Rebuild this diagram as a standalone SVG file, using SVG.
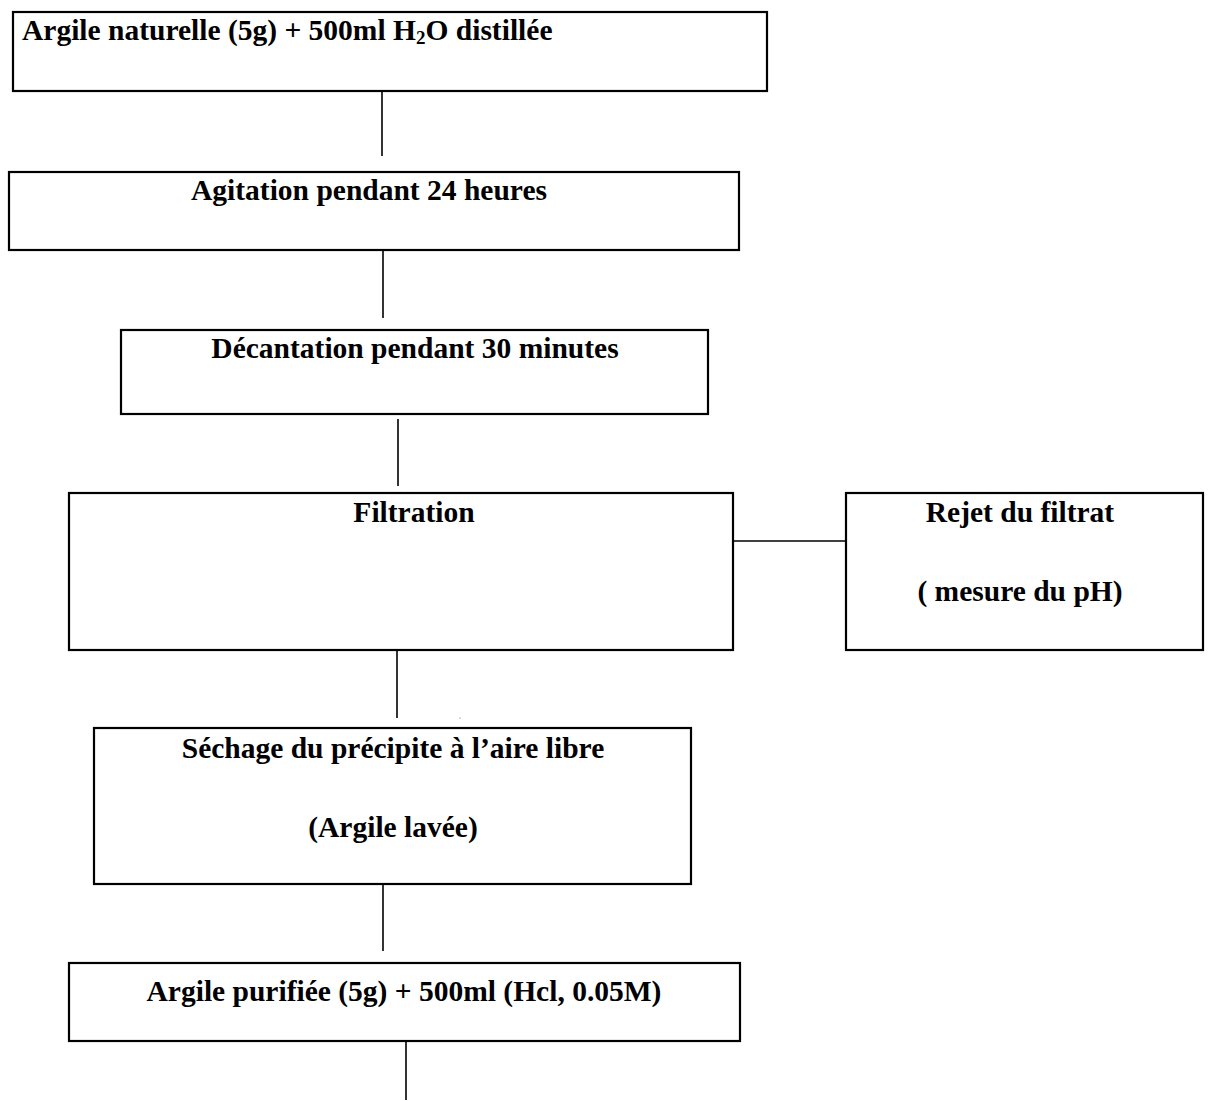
<svg xmlns="http://www.w3.org/2000/svg" width="1208" height="1101" viewBox="0 0 1208 1101">
  <style>
    .box { fill: #ffffff; stroke: #000000; stroke-width: 2.2; }
    .link { stroke: #000000; stroke-width: 1.6; fill: none; }
    .lbl { font-family: "Liberation Serif", "Times New Roman", serif; font-weight: bold; font-size: 29.5px; fill: #000000; }
    .mid { text-anchor: middle; }
  </style>
  <rect width="1208" height="1101" fill="#ffffff"/>

  <!-- connectors between the steps -->
  <g id="connectors">
    <line class="link" x1="382" y1="92" x2="382" y2="156"/>
    <line class="link" x1="383" y1="248" x2="383" y2="318"/>
    <line class="link" x1="398" y1="419" x2="398" y2="486"/>
    <line class="link" x1="734" y1="541" x2="848" y2="541" stroke-width="2"/>
    <line class="link" x1="397" y1="650" x2="397" y2="718"/>
    <line class="link" x1="383" y1="880" x2="383" y2="951"/>
    <line class="link" x1="406" y1="1040" x2="406" y2="1100"/>
    <circle cx="460" cy="718" r="0.6" fill="#555555"/>
  </g>

  <g id="step-argile-naturelle">
    <rect class="box" x="13" y="12" width="754" height="79"/>
    <text class="lbl" x="22" y="40">Argile naturelle (5g) + 500ml H<tspan font-size="19" dy="4">2</tspan><tspan dy="-4">O distillée</tspan></text>
  </g>

  <g id="step-agitation">
    <rect class="box" x="9" y="172" width="730" height="78"/>
    <text class="lbl mid" x="369" y="200">Agitation pendant 24 heures</text>
  </g>

  <g id="step-decantation">
    <rect class="box" x="121" y="330" width="587" height="84"/>
    <text class="lbl mid" x="415" y="358">Décantation pendant 30 minutes</text>
  </g>

  <g id="step-filtration">
    <rect class="box" x="69" y="493" width="664" height="157"/>
    <text class="lbl mid" x="414" y="522">Filtration</text>
  </g>

  <g id="step-rejet">
    <rect class="box" x="846" y="493" width="357" height="157"/>
    <text class="lbl mid" x="1020" y="522">Rejet du filtrat</text>
    <text class="lbl mid" x="1020" y="601">( mesure du pH)</text>
  </g>

  <g id="step-sechage">
    <rect class="box" x="94" y="728" width="597" height="156"/>
    <text class="lbl mid" x="393" y="758">Séchage du précipite à l’aire libre</text>
    <text class="lbl mid" x="393" y="837">(Argile lavée)</text>
  </g>

  <g id="step-argile-purifiee">
    <rect class="box" x="69" y="963" width="671" height="78"/>
    <text class="lbl mid" x="404" y="1001">Argile purifiée (5g) + 500ml (Hcl, 0.05M)</text>
  </g>
</svg>
